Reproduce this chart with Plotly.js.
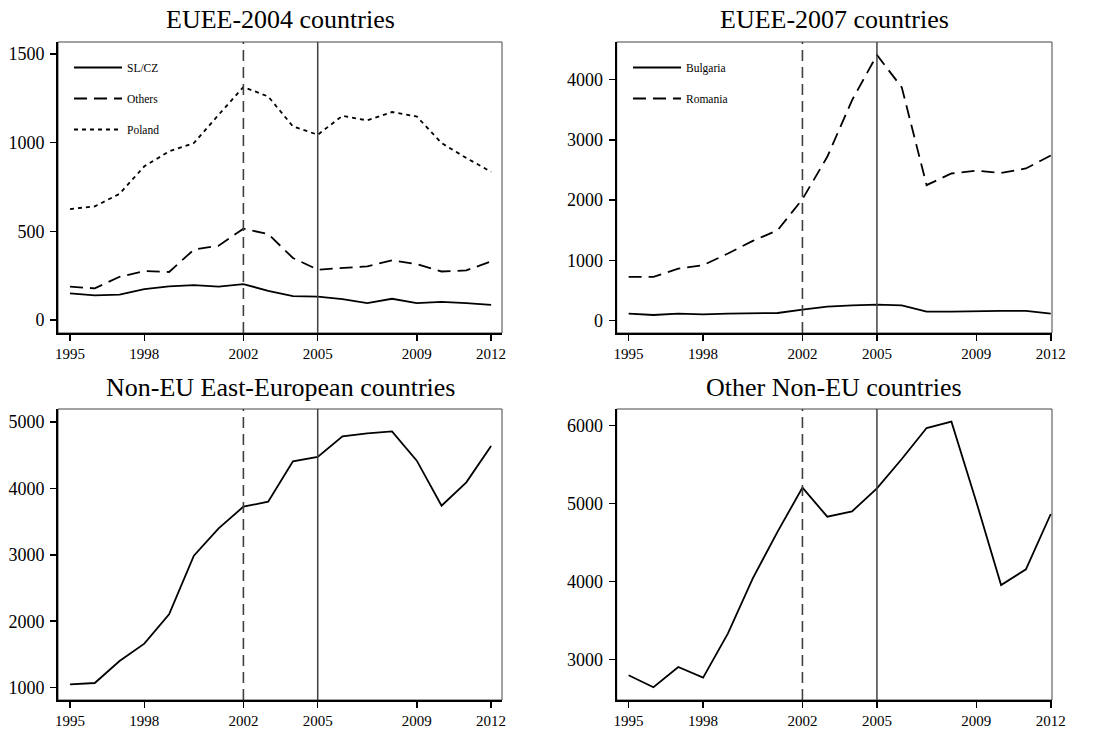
<!DOCTYPE html>
<html>
<head>
<meta charset="utf-8">
<script src="https://cdn.plot.ly/plotly-3.0.1.min.js"></script>
<style>html,body{margin:0;padding:0;background:#fff;}#chart{width:1107px;height:731px;}</style>
</head>
<body>
<div id="chart"></div>
<script>
// ---- data ----
const years = [1995,1996,1997,1998,1999,2000,2001,2002,2003,2004,2005,2006,2007,2008,2009,2010,2011,2012];
const xTickVals = [1995,1998,2002,2005,2009,2012];

const slcz   = [150,139,143,175,190,197,188,203,165,135,132,118,96,120,96,103,96,86];
const others = [188,179,244,276,271,397,419,515,485,350,284,295,303,336,316,274,280,331];
const poland = [626,641,712,867,951,998,1158,1314,1261,1092,1045,1152,1126,1173,1148,998,914,836];

const bulgaria = [116,94,116,105,116,127,127,183,233,255,266,255,150,150,161,161,161,116];
const romania  = [726,726,864,920,1114,1324,1501,2017,2720,3662,4410,3873,2249,2443,2488,2454,2526,2742];

const nonEUEast = [1050,1070,1401,1662,2104,2987,3399,3725,3800,4408,4473,4784,4829,4859,4418,3740,4092,4639];
const otherNonEU = [2795,2641,2902,2765,3334,4040,4640,5204,4832,4900,5195,5572,5970,6051,5024,3954,4155,4866];

const panelTitles = ["EUEE-2004 countries","EUEE-2007 countries","Non-EU East-European countries","Other Non-EU countries"];
const eventYears = [2002, 2005];

// ---- styling ----
const FONT = "Liberation Serif, Times New Roman, serif";
const lw = 1.8;
function tr(x, y, name, dash, xa, ya, legend, show) {
  return {x: x, y: y, name: name, type: 'scatter', mode: 'lines',
    line: {color: '#000', width: lw, dash: dash},
    xaxis: xa, yaxis: ya, legend: legend, showlegend: show, legendgroup: name, hoverinfo: 'skip'};
}

const data = [
  tr(years, slcz, 'SL/CZ', 'solid', 'x', 'y', 'legend', true),
  tr(years, others, 'Others', '13px,7px', 'x', 'y', 'legend', true),
  tr(years, poland, 'Poland', '4px,4px', 'x', 'y', 'legend', true),
  tr(years, bulgaria, 'Bulgaria', 'solid', 'x2', 'y2', 'legend2', true),
  tr(years, romania, 'Romania', '13px,7px', 'x2', 'y2', 'legend2', true),
  tr(years, nonEUEast, 'Non-EU East', 'solid', 'x3', 'y3', 'legend', false),
  tr(years, otherNonEU, 'Other Non-EU', 'solid', 'x4', 'y4', 'legend', false)
];

const W = 1107, H = 731;
const colL = [58/W, 502/W], colR = [616.7/W, 1052/W];
const rowT = [1-333/H, 1-42/H], rowB = [1-700/H, 1-409/H];

function xax(domain, range, anchor) {
  return {domain: domain, range: range, anchor: anchor, tickmode: 'array', tickvals: xTickVals,
    ticks: 'outside', ticklen: 6, tickwidth: 1.5, tickcolor: '#000',
    showline: true, linecolor: '#000', linewidth: 2, showgrid: false, zeroline: false,
    tickfont: {family: FONT, size: 15, color: '#000'}, fixedrange: true};
}
function yax(domain, range, anchor, tickvals) {
  return {domain: domain, range: range, anchor: anchor, tickmode: 'array', tickvals: tickvals,
    ticks: 'outside', ticklen: 6, tickwidth: 1.5, tickcolor: '#000', ticklabelstandoff: 2,
    showline: true, linecolor: '#000', linewidth: 2, showgrid: false, zeroline: false,
    tickfont: {family: FONT, size: 18, color: '#000'}, fixedrange: true};
}

const shapes = [];
const annotations = [];
const axPairs = [['x','y'],['x2','y2'],['x3','y3'],['x4','y4']];
axPairs.forEach(function(p, i) {
  shapes.push({type: 'rect', xref: p[0] + ' domain', yref: p[1] + ' domain', x0: 0, x1: 1, y0: 0, y1: 1,
    line: {color: '#444', width: 1}, layer: 'below'});
  shapes.push({type: 'line', xref: p[0], yref: p[1] + ' domain', x0: eventYears[0], x1: eventYears[0], y0: 0, y1: 1,
    line: {color: '#404040', width: 1.6, dash: '11px,6px'}, layer: 'above'});
  shapes.push({type: 'line', xref: p[0], yref: p[1] + ' domain', x0: eventYears[1], x1: eventYears[1], y0: 0, y1: 1,
    line: {color: '#404040', width: 1.5}, layer: 'above'});
  annotations.push({text: panelTitles[i], xref: p[0] + ' domain', yref: p[1] + ' domain', x: 0.5, y: 1,
    xanchor: 'center', yanchor: 'middle', yshift: 22, showarrow: false,
    font: {family: FONT, size: 26, color: '#000'}});
});

const legendBase = {bgcolor: 'rgba(0,0,0,0)', borderwidth: 0, font: {family: FONT, size: 11.5, color: '#000'},
  traceorder: 'grouped', tracegroupgap: 12, itemwidth: 48, xanchor: 'left', yanchor: 'top', itemclick: false, itemdoubleclick: false};

const layout = {
  width: W, height: H, margin: {l: 0, r: 0, t: 0, b: 0},
  paper_bgcolor: '#fff', plot_bgcolor: '#fff',
  font: {family: FONT, color: '#000'},
  xaxis: xax(colL, [1994.515, 2012.44], 'y'),
  yaxis: yax(rowT, [-73, 1568], 'x', [0, 500, 1000, 1500]),
  xaxis2: xax(colR, [1994.52, 2012.05], 'y2'),
  yaxis2: yax(rowT, [-205, 4626], 'x2', [0, 1000, 2000, 3000, 4000]),
  xaxis3: xax(colL, [1994.515, 2012.44], 'y3'),
  yaxis3: yax(rowB, [814, 5196], 'x3', [1000, 2000, 3000, 4000, 5000]),
  xaxis4: xax(colR, [1994.52, 2012.05], 'y4'),
  yaxis4: yax(rowB, [2478, 6214], 'x4', [3000, 4000, 5000, 6000]),
  legend: Object.assign({}, legendBase, {x: 69/W, y: 1 - 53/H}),
  legend2: Object.assign({}, legendBase, {x: 628/W, y: 1 - 53/H}),
  shapes: shapes,
  annotations: annotations,
  showlegend: true
};

Plotly.newPlot('chart', data, layout, {displayModeBar: false, staticPlot: true});
</script>
</body>
</html>
